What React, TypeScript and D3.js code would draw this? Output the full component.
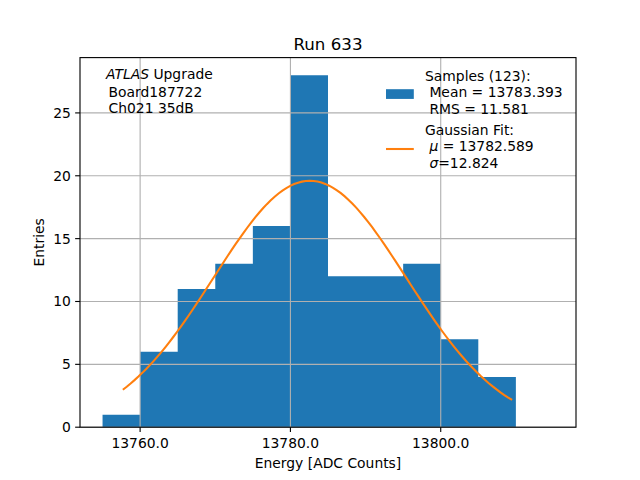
import { line, path as d3path, range, scaleLinear } from 'd3'

// histogram of samples, 5 ADC count bins
const binEdges = [13755, 13760, 13765, 13770, 13775, 13780, 13785, 13790, 13795, 13800, 13805, 13810, 13815]
const binCounts = [1, 6, 11, 13, 16, 28, 12, 12, 13, 7, 4, 0]

const xTicks = [13760, 13780, 13800]
const yTicks = [0, 5, 10, 15, 20, 25]

// gaussian fit parameters (from legend)
const fitMu = 13782.589
const fitSigma = 12.824
const fitAmp = 19.6
const fitStart = 13757.7
const fitEnd = 13809.5

const sampleLines = ['Samples (123):', 'Mean = 13783.393', 'RMS = 11.581']

const W = 640
const H = 480
const m = { left: 80, right: 576, top: 57.6, bottom: 427.2 }
const font = "'DejaVu Sans', sans-serif"
const blue = '#1f77b4'
const orange = '#ff7f0e'
const gridColor = '#b0b0b0'
const fs = 13.89
const lw = 1.11
const tickLen = 4.86

export default function App() {
  const x = scaleLinear().domain([13752, 13818]).range([m.left, m.right])
  const y = scaleLinear().domain([0, 28 * 1.05]).range([m.bottom, m.top])

  const gauss = (v: number) => fitAmp * Math.exp(-0.5 * ((v - fitMu) / fitSigma) ** 2)
  const curveX = range(0, 101).map(i => fitStart + (i / 100) * (fitEnd - fitStart))
  const curve = line<number>()
    .x(d => x(d))
    .y(d => y(gauss(d)))(curveX) ?? ''

  // all bars in one path so neighbours don't show seams
  const bars = d3path()
  binCounts.forEach((c, i) => {
    if (c > 0) {
      bars.rect(x(binEdges[i]), y(c), x(binEdges[i + 1]) - x(binEdges[i]), y(0) - y(c))
    }
  })

  return (
    <svg
      width={W}
      height={H}
      style={{ position: 'absolute', left: 0, top: 0, background: '#fff' }}
      fontFamily={font}
    >
      <rect width={W} height={H} fill='#fff' />
      <path d={bars.toString()} fill={blue} />
      {/* grid */}
      <g stroke={gridColor} strokeWidth={lw}>
        {xTicks.map(t => (
          <line key={t} x1={x(t)} x2={x(t)} y1={m.top} y2={m.bottom} />
        ))}
        {yTicks.map(t => (
          <line key={t} x1={m.left} x2={m.right} y1={y(t)} y2={y(t)} />
        ))}
      </g>
      {/* gaussian fit */}
      <path d={curve} fill='none' stroke={orange} strokeWidth={2.08} />
      {/* frame */}
      <rect
        x={m.left}
        y={m.top}
        width={m.right - m.left}
        height={m.bottom - m.top}
        fill='none'
        stroke='#000'
        strokeWidth={lw}
      />
      {/* axes */}
      <g fontSize={fs} fill='#000'>
        {xTicks.map(t => (
          <g key={t}>
            <line x1={x(t)} x2={x(t)} y1={m.bottom} y2={m.bottom + tickLen} stroke='#000' strokeWidth={lw} />
            <text x={x(t)} y={m.bottom + 20.5} textAnchor='middle'>
              {t.toFixed(1)}
            </text>
          </g>
        ))}
        {yTicks.map(t => (
          <g key={t}>
            <line x1={m.left - tickLen} x2={m.left} y1={y(t)} y2={y(t)} stroke='#000' strokeWidth={lw} />
            <text x={m.left - 9.2} y={y(t)} dy='0.36em' textAnchor='end'>
              {t}
            </text>
          </g>
        ))}
        <text x={(m.left + m.right) / 2} y={467.5} textAnchor='middle'>
          Energy [ADC Counts]
        </text>
        <text transform={`translate(44, ${(m.top + m.bottom) / 2}) rotate(-90)`} textAnchor='middle'>
          Entries
        </text>
      </g>
      {/* title */}
      <text x={(m.left + m.right) / 2} y={49.5} textAnchor='middle' fontSize={16.67}>
        Run 633
      </text>
      {/* ATLAS label */}
      <g fontSize={fs}>
        <text x={106} y={79.3}>
          <tspan fontStyle='italic'>ATLAS</tspan> Upgrade
        </text>
        <text x={108.5} y={96.5}>Board187722</text>
        <text x={108.5} y={113.3}>Ch021 35dB</text>
      </g>
      {/* legend */}
      <g fontSize={fs}>
        <rect x={386} y={89.2} width={27.8} height={9.72} fill={blue} />
        <text x={425} y={80.7}>{sampleLines[0]}</text>
        <text x={429.4} y={97.2}>{sampleLines[1]}</text>
        <text x={429.4} y={113.7}>{sampleLines[2]}</text>
        <line x1={386} x2={413.8} y1={149} y2={149} stroke={orange} strokeWidth={2.08} />
        <text x={425} y={134.5}>Gaussian Fit:</text>
        <text x={429.4} y={151.3}>
          <tspan fontStyle='italic'>μ</tspan> = 13782.589
        </text>
        <text x={429.4} y={168}>
          <tspan fontStyle='italic'>σ</tspan>=12.824
        </text>
      </g>
    </svg>
  )
}
